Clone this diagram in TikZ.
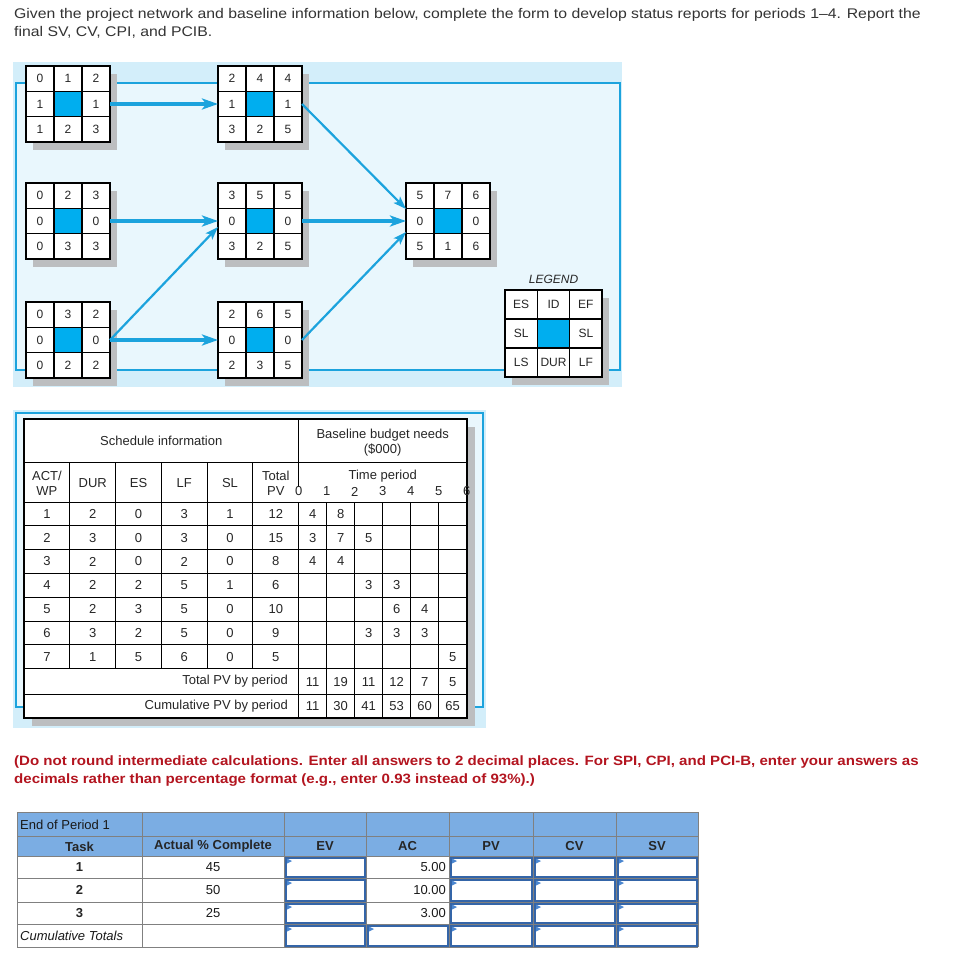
\documentclass[tikz,border=0pt]{standalone}
\usepackage{fontspec}
\setmainfont{Liberation Sans}
\newfontfamily\titlefont[FakeStretch=1.128]{Liberation Sans}
\newfontfamily\notefont[FakeStretch=1.116]{Liberation Sans}
\usetikzlibrary{arrows.meta}
\definecolor{bgouter}{HTML}{D3EEFA}
\definecolor{bginner}{HTML}{E9F7FD}
\definecolor{lineblue}{HTML}{1CA3DD}
\definecolor{cellblue}{HTML}{00AEEF}
\definecolor{shadowgray}{HTML}{BCBEC0}
\definecolor{redtext}{HTML}{B3141F}
\definecolor{hdrblue}{HTML}{7BADE3}
\definecolor{gridgray}{HTML}{808080}
\definecolor{inputblue}{HTML}{3465A8}
\definecolor{inputtri}{HTML}{4A86D0}
\definecolor{titlegray}{HTML}{333333}
\newcommand\fsz[1]{\fontsize{#1pt}{#1pt}\selectfont}
\tikzset{
  netframe/.style={draw=black, line width=1.3pt, fill=white, inner sep=0pt, outer sep=0pt, rectangle},
  nettext/.style={font=\fsz{12}, inner sep=0pt, text=black!85},
  tabtext/.style={font=\fsz{13}, inner sep=0pt, text=black!85},
  formtext/.style={font=\fsz{13}, inner sep=0pt, text=black!90},
  formhead/.style={font=\bfseries\fsz{13}, inner sep=0pt, text=black!85},
  thickarrow/.style={draw=lineblue, line width=3.5pt, -{Stealth[length=16pt,width=11pt,inset=4pt]}},
  thinarrow/.style={draw=lineblue, line width=2.2pt, -{Stealth[length=13pt,width=9pt,inset=3pt]}},
}
% #1 name, #2 x, #3 y, #4 w, #5 h, #6 top row, #7 middle (2), #8 bottom row
\newcommand\netbox[8]{%
  \fill[shadowgray] (#2+7,#3+8) rectangle (#2+#4+7,#3+#5+8);
  \node[netframe, minimum width=#4pt, minimum height=#5pt, anchor=north west] (#1) at (#2,#3) {};
  \fill[cellblue] (#2+#4/3,#3+#5/3) rectangle (#2+2*#4/3,#3+2*#5/3);
  \draw[line width=1.1pt] (#2+#4/3,#3) -- (#2+#4/3,#3+#5) (#2+2*#4/3,#3) -- (#2+2*#4/3,#3+#5)
     (#2,#3+#5/3) -- (#2+#4,#3+#5/3) (#2,#3+2*#5/3) -- (#2+#4,#3+2*#5/3);
  \draw[line width=1.3pt] (#1.north west) rectangle (#1.south east);
  \foreach \v [count=\i] in {#6} \node[nettext] (#1-t\i) at (#2+\i*#4/3-#4/6, #3+#5/6) {\v};
  \foreach \v [count=\i] in {#7} \node[nettext] (#1-m\i) at (#2+\i*2*#4/3-#4/2, #3+#5/2) {\v};
  \foreach \v [count=\i] in {#8} \node[nettext] (#1-b\i) at (#2+\i*#4/3-#4/6, #3+5*#5/6) {\v};
}
\newcommand\inbox[4]{%
  \draw[inputblue, line width=2pt, fill=white] (#1+1.5,#2+1.5) rectangle (#3-1.5,#4-1.5);
  \fill[inputtri] (#1+3,#2+2.5) -- (#1+8,#2+5) -- (#1+3,#2+7.5) -- cycle;
}
\begin{document}
\begin{tikzpicture}[x=1pt, y=-1pt]
\useasboundingbox (0,0) rectangle (962,979);
\fill[white] (0,0) rectangle (962,979);

% ---------- title ----------
\node[anchor=base west, font=\titlefont\fsz{14}, text=titlegray, inner sep=0pt] (title1) at (14,19)
  {Given the project network and baseline information below, complete the form to develop status reports for periods 1–4. Report the};
\node[anchor=base west, font=\titlefont\fsz{14}, text=titlegray, inner sep=0pt] (title2) at (14,37)
  {final SV, CV, CPI, and PCIB.};

% ---------- network ----------
\fill[bgouter] (13,62) rectangle (622,387);
\fill[bginner] (16,83) rectangle (620,370);
\draw[lineblue, line width=2pt] (16,83) rectangle (620,370);

\netbox{A}{26}{66}{84}{76}{0,1,2}{1,1}{1,2,3}
\netbox{B}{26}{183}{84}{76}{0,2,3}{0,0}{0,3,3}
\netbox{C}{26}{302}{84}{76}{0,3,2}{0,0}{0,2,2}
\netbox{D}{218}{66}{84}{76}{2,4,4}{1,1}{3,2,5}
\netbox{E}{218}{183}{84}{76}{3,5,5}{0,0}{3,2,5}
\netbox{F}{218}{302}{84}{76}{2,6,5}{0,0}{2,3,5}
\netbox{G}{406}{183}{84}{76}{5,7,6}{0,0}{5,1,6}
\netbox{L}{505}{290}{97}{87}{ES,ID,EF}{SL,SL}{LS,DUR,LF}
\node[font=\itshape\fsz{12}, text=black!85, inner sep=0pt] (legend) at (553.5,279) {LEGEND};

\draw[thickarrow] (A.east) -- (D.west);
\draw[thickarrow] (B.east) -- (E.west);
\draw[thickarrow] (C.east) -- (F.west);
\draw[thickarrow] (E.east) -- (G.west);
\draw[thinarrow] (C.east) -- ([yshift=-6pt]E.west);
\draw[thinarrow] (D.east) -- ([yshift=12pt]G.west);
\draw[thinarrow] (F.east) -- ([yshift=-11pt]G.west);

% ---------- baseline table ----------
\fill[bgouter] (13,410) rectangle (486,728);
\fill[bginner] (16,413) rectangle (483,707);
\draw[lineblue, line width=2pt] (16,413) rectangle (483,707);
\fill[shadowgray] (32,427) rectangle (474.7,726);
\node[draw=black, line width=2.2pt, fill=white, inner sep=0pt, outer sep=0pt,
      minimum width=442.7pt, minimum height=299pt, anchor=north west] (tbl) at (24,419) {};
\begin{scope}[line width=1pt]
  \draw (24,462) -- (466.7,462);
  \draw (24,502) -- (466.7,502);
  \foreach \k in {1,...,7} \draw (24,502+23.8*\k) -- (466.7,502+23.8*\k);
  \draw (24,694.6) -- (466.7,694.6);
  \foreach \k in {1,...,5} \draw (24+45.78*\k,462) -- (24+45.78*\k,668.6);
  \draw (298.7,419) -- (298.7,487);
  \draw (298.7,502) -- (298.7,718);
  \foreach \k in {1,...,5} \draw (298.7+28*\k,502) -- (298.7+28*\k,718);
\end{scope}
\draw[line width=2.2pt] (tbl.north west) rectangle (tbl.south east);

\node[tabtext] (h-sched) at (161.3,441) {Schedule information};
\node[tabtext] (h-base1) at (382.7,435) {Baseline budget needs};
\node[tabtext] (h-base2) at (382.7,450) {(\$000)};
\node[tabtext] (h-act1) at (46.9,476) {ACT/};
\node[tabtext] (h-act2) at (46.9,491) {WP};
\node[tabtext] (h-dur) at (92.7,483) {DUR};
\node[tabtext] (h-es) at (138.5,483) {ES};
\node[tabtext] (h-lf) at (184.2,483) {LF};
\node[tabtext] (h-sl) at (230,483) {SL};
\node[tabtext] (h-tot1) at (275.8,476) {Total};
\node[tabtext] (h-tot2) at (275.8,491) {PV};
\node[tabtext] (h-time) at (382.7,476) {Time period};
\foreach \p in {0,...,6} \node[tabtext] (h-p\p) at (298.7+28*\p,491.5) {\p};

\foreach \rowvals [count=\r] in {{1,2,0,3,1,12},{2,3,0,3,0,15},{3,2,0,2,0,8},{4,2,2,5,1,6},{5,2,3,5,0,10},{6,3,2,5,0,9},{7,1,5,6,0,5}}{
  \foreach \v [count=\c] in \rowvals
    \node[tabtext] (s-\r-\c) at (24+45.78*\c-22.89, 502+23.8*\r-11.9) {\v};
}
\foreach \r/\p/\v in {1/1/4,1/2/8,2/1/3,2/2/7,2/3/5,3/1/4,3/2/4,4/3/3,4/4/3,5/4/6,5/5/4,6/3/3,6/4/3,6/5/3,7/6/5}
  \node[tabtext] (b-\r-\p) at (298.7+28*\p-14, 502+23.8*\r-11.9) {\v};

\node[tabtext, anchor=east] (lbl-tot) at (288,681.6) {Total PV by period};
\node[tabtext, anchor=east] (lbl-cum) at (288,706.3) {Cumulative PV by period};
\foreach \v [count=\p] in {11,19,11,12,7,5}
  \node[tabtext] (t-\p) at (298.7+28*\p-14,681.6) {\v};
\foreach \v [count=\p] in {11,30,41,53,60,65}
  \node[tabtext] (c-\p) at (298.7+28*\p-14,706.3) {\v};

% ---------- red note ----------
\node[anchor=base west, font=\notefont\bfseries\fsz{13.5}, text=redtext, inner sep=0pt] (note1) at (14,765)
  {(Do not round intermediate calculations. Enter all answers to 2 decimal places. For SPI, CPI, and PCI-B, enter your answers as};
\node[anchor=base west, font=\notefont\bfseries\fsz{13.5}, text=redtext, inner sep=0pt] (note2) at (14,783)
  {decimals rather than percentage format (e.g., enter 0.93 instead of 93\%).)};

% ---------- form ----------
\fill[hdrblue] (17,812) rectangle (698,856);
\fill[white] (17,856) rectangle (698,947);
\foreach \y in {812,836,856,878,902,924,947} \draw[gridgray, line width=1pt] (17,\y) -- (698,\y);
\foreach \x in {17,142,284,366,449,533,616,698} \draw[gridgray, line width=1pt] (\x,812) -- (\x,947);

\node[formtext, anchor=west] (f-period) at (20,824.5) {End of Period 1};
\node[formhead] (f-task) at (79.5,846.5) {Task};
\node[formhead] (f-pct) at (213,846.5) {Actual \% Complete};
\node[formhead] (f-ev) at (325,846.5) {EV};
\node[formhead] (f-ac) at (407.5,846.5) {AC};
\node[formhead] (f-pv) at (491,846.5) {PV};
\node[formhead] (f-cv) at (574.5,846.5) {CV};
\node[formhead] (f-sv) at (657,846.5) {SV};

\foreach \t/\pc/\ac/\y [count=\i] in {1/45/5.00/867, 2/50/10.00/890, 3/25/3.00/913}{
  \node[formhead] (f-t\i) at (79.5,\y) {\t};
  \node[formtext] (f-p\i) at (213,\y) {\pc};
  \node[formtext, anchor=east] (f-a\i) at (446,\y) {\ac};
}
\node[formtext, anchor=west, font=\itshape\fsz{13}] (f-cum) at (20,935.5) {Cumulative Totals};

\foreach \x/\xx in {284/366,449/533,533/616,616/698}
  \foreach \y/\yy in {856/878,878/902,902/924,924/947}
    \inbox{\x}{\y}{\xx}{\yy};
\inbox{366}{924}{449}{947}
\end{tikzpicture}
\end{document}
